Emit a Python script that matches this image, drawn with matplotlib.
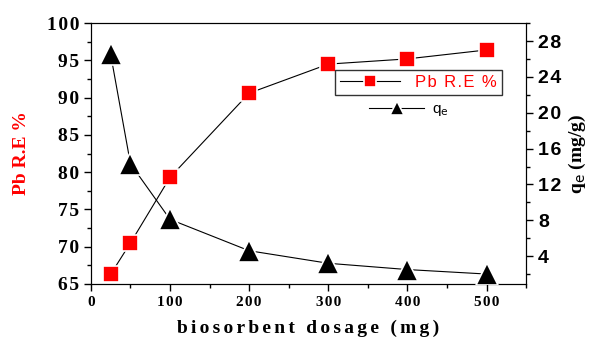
import matplotlib
matplotlib.use("Agg")
import matplotlib.pyplot as plt
from matplotlib.ticker import MultipleLocator

# data
dosage = [25, 50, 100, 200, 300, 400, 500]
pb_re = [66.3, 70.5, 79.3, 90.6, 94.5, 95.2, 96.4]
qe = [26.5, 14.3, 8.1, 4.6, 3.2, 2.5, 2.0]

xticks = [0, 100, 200, 300, 400, 500]
lticks = [65, 70, 75, 80, 85, 90, 95, 100]
rticks = [4, 8, 12, 16, 20, 24, 28]
hs = "\u200a"

fig = plt.figure(figsize=(6.02, 3.4), dpi=100)
ax = fig.add_axes([0.151, 0.165, 0.723, 0.767])
ax2 = ax.twinx()

ax.plot(dosage, pb_re, color="black", lw=0.8, marker="s", ms=11,
        mfc="red", mec="white", mew=1.2, label=hs.join("Pb R.E %"), zorder=3)
ax2.plot(dosage, qe, color="black", lw=0.8, marker="^", ms=15.5,
         mfc="black", mec="white", mew=1.2, label="q$_{\\rm e}$", zorder=3)

ax.set_xlim(0, 550)
ax.set_ylim(65, 100)
ax2.set_ylim(0.9, 30)

ax.tick_params(which="both", direction="out", width=1, top=False)
ax.tick_params(which="major", length=5)
ax.tick_params(which="minor", length=3)
ax2.tick_params(which="both", direction="out", width=1)
ax2.tick_params(which="major", length=5)
ax2.tick_params(which="minor", length=3)

ax.set_xticks(xticks, [hs.join(str(v)) for v in xticks],
              family="Liberation Serif", fontweight="bold", fontsize=11)
ax.set_yticks(lticks, [hs.join(str(v)) for v in lticks],
              family="Liberation Serif", fontweight="bold", fontsize=14)
ax2.set_yticks(rticks, [hs.join(str(v)) for v in rticks],
               family="Liberation Sans", fontweight="bold", fontsize=14)
ax.xaxis.set_minor_locator(MultipleLocator(50))
ax.yaxis.set_minor_locator(MultipleLocator(2.5))
ax2.yaxis.set_minor_locator(MultipleLocator(2))

ax.set_xlabel((hs * 2).join("biosorbent dosage (mg)"), family="Liberation Serif",
              weight="bold", fontsize=14, labelpad=8)
ax.set_ylabel("Pb R.E %", family="Liberation Serif", weight="bold",
              fontsize=14, color="red", labelpad=12)
ax2.set_ylabel("q$_{\\rm e}$ (mg/g)", family="Liberation Serif", weight="bold",
               fontsize=14, labelpad=4)

h1, l1 = ax.get_legend_handles_labels()
h2, l2 = ax2.get_legend_handles_labels()
leg1 = ax2.legend(h1, l1, loc="upper left", bbox_to_anchor=(0.561, 0.82),
                  frameon=True, fancybox=False, edgecolor="black",
                  prop={"family": "Liberation Sans", "size": 12},
                  handlelength=3.6, handletextpad=0.9, borderaxespad=0,
                  borderpad=0.3, markerscale=0.75)
leg1.get_frame().set_linewidth(1)
leg1.get_texts()[0].set_color("red")
ax2.add_artist(leg1)
ax2.legend(h2, l2, loc="upper left", bbox_to_anchor=(0.625, 0.72),
           frameon=False, prop={"family": "Liberation Sans", "size": 11},
           handlelength=3.6, handletextpad=0.5, borderaxespad=0,
           markerscale=0.65)

fig.savefig("out.png", dpi=100)
